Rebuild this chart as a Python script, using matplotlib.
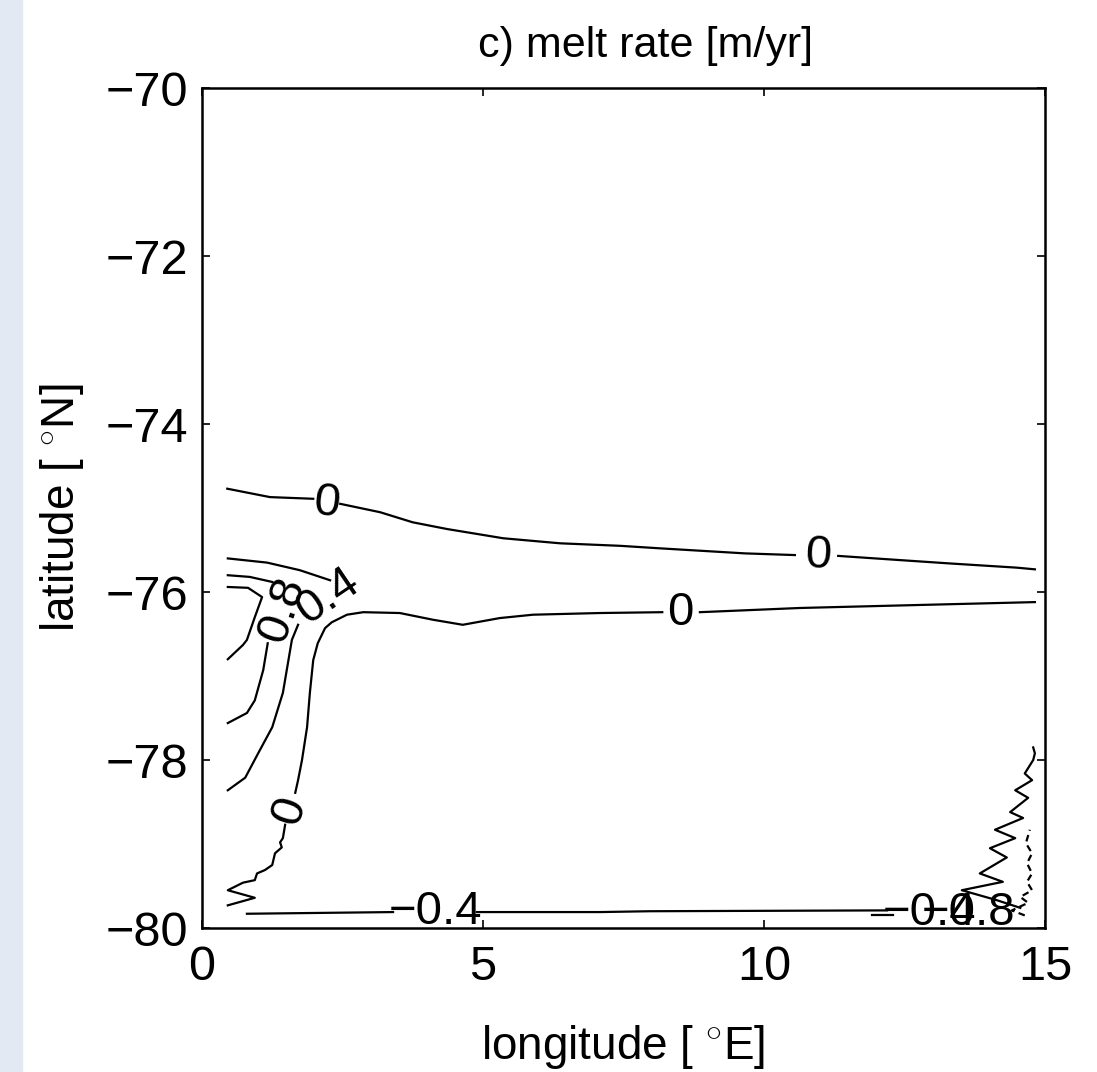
import matplotlib.pyplot as plt
from matplotlib.patches import Rectangle

plt.rcParams['font.family'] = ['Liberation Sans', 'DejaVu Sans']
plt.rcParams['mathtext.fontset'] = 'custom'
plt.rcParams['mathtext.rm'] = 'Liberation Sans'

# contour lines of melt rate (lon in deg E, lat in deg N)
# 0 m/yr, northern line (split where the labels sit)
zero_n1_lon = [0.45, 1.21, 1.98]
zero_n1_lat = [-74.77, -74.87, -74.89]
zero_n2_lon = [2.46, 3.17, 3.75, 4.36, 5.36, 6.37, 7.44, 8.15, 9.66, 10.55]
zero_n2_lat = [-74.95, -75.05, -75.17, -75.25, -75.36, -75.42, -75.45, -75.48, -75.54, -75.56]
zero_n3_lon = [11.32, 12.42, 13.31, 14.50, 14.82]
zero_n3_lat = [-75.57, -75.62, -75.66, -75.71, -75.73]

# 0 m/yr, southern line
zero_s1_lon = [0.46, 0.94, 0.46, 0.73, 0.94, 0.98, 1.12, 1.25, 1.30, 1.42, 1.39, 1.44, 1.48]
zero_s1_lat = [-79.73, -79.64, -79.55, -79.46, -79.43, -79.35, -79.31, -79.25, -79.11, -79.04,
               -78.98, -78.93, -78.77]
zero_s2_lon = [1.66, 1.71, 1.78, 1.87, 1.92, 1.98, 2.06, 2.19, 2.31, 2.58, 2.87, 3.52, 4.11,
               4.64, 5.30, 5.89, 7.08, 8.19]
zero_s2_lat = [-78.39, -78.24, -78.00, -77.61, -77.20, -76.81, -76.61, -76.43, -76.36, -76.27,
               -76.24, -76.25, -76.33, -76.39, -76.31, -76.27, -76.25, -76.24]
zero_s3_lon = [8.86, 10.64, 12.42, 14.82]
zero_s3_lat = [-76.24, -76.19, -76.16, -76.12]

# 0.4 m/yr
p04_1_lon = [0.46, 1.16, 1.74, 2.28]
p04_1_lat = [-75.60, -75.65, -75.74, -75.86]
p04_2_lon = [1.71, 1.60, 1.44, 1.25, 1.00, 0.77, 0.46]
p04_2_lat = [-76.39, -76.57, -77.20, -77.61, -77.92, -78.21, -78.36]

# 0.8 m/yr
p08_1_lon = [0.46, 0.85, 1.25]
p08_1_lat = [-75.80, -75.82, -75.88]
p08_2_lon = [1.17, 1.09, 0.94, 0.80, 0.46]
p08_2_lat = [-76.61, -76.93, -77.29, -77.44, -77.56]

# 1.2 m/yr
p12_lon = [0.46, 0.82, 1.07, 0.94, 0.80, 0.73, 0.46]
p12_lat = [-75.94, -75.95, -76.06, -76.30, -76.57, -76.63, -76.80]

# -0.4 m/yr
m04_1_lon = [0.80, 3.40]
m04_1_lat = [-79.83, -79.81]
m04_2_lon = [4.89, 7.08, 7.97, 12.19]
m04_2_lat = [-79.81, -79.81, -79.80, -79.79]
m04_3_lon = [14.56, 14.15, 13.52, 14.25, 13.84, 14.32, 14.02, 14.47, 14.11, 14.61, 14.38, 14.70,
             14.47, 14.77, 14.64, 14.79, 14.82, 14.79]
m04_3_lat = [-79.76, -79.67, -79.55, -79.45, -79.35, -79.16, -79.05, -78.93, -78.83, -78.69,
             -78.62, -78.45, -78.36, -78.24, -78.16, -78.00, -77.92, -77.85]

# -0.8 m/yr
m08_1_lon = [11.92, 12.30]
m08_1_lat = [-79.85, -79.85]
m08_2_lon = [14.64, 14.41, 14.70, 14.56, 14.77, 14.68, 14.77, 14.68, 14.77, 14.66, 14.73]
m08_2_lat = [-79.85, -79.79, -79.70, -79.63, -79.55, -79.45, -79.35, -79.23, -79.11, -78.99, -78.83]

# contour labels
label_text = ['0', '0', '0', '0', '0.4', '0.8', '\u22120.4', '\u22120.4', '\u22120.8']
label_lon = [2.21, 10.96, 8.52, 1.57, 2.24, 1.44, 4.15, 12.95, 13.63]
label_lat = [-74.94, -75.57, -76.25, -78.60, -76.06, -76.21, -79.81, -79.82, -79.82]
label_rot = [-6, -3, 0, 72, 34, 71, 0, 0, 0]

solid = [(zero_n1_lon, zero_n1_lat), (zero_n2_lon, zero_n2_lat), (zero_n3_lon, zero_n3_lat),
         (zero_s1_lon, zero_s1_lat), (zero_s2_lon, zero_s2_lat), (zero_s3_lon, zero_s3_lat),
         (p04_1_lon, p04_1_lat), (p04_2_lon, p04_2_lat),
         (p08_1_lon, p08_1_lat), (p08_2_lon, p08_2_lat), (p12_lon, p12_lat),
         (m04_1_lon, m04_1_lat), (m04_2_lon, m04_2_lat), (m04_3_lon, m04_3_lat),
         (m08_1_lon, m08_1_lat)]

fig = plt.figure(figsize=(10.97, 10.72), dpi=100)
fig.add_artist(Rectangle((0, 0), 22 / 1097, 1, transform=fig.transFigure,
                         color='#e2e9f3', zorder=-1))
ax = fig.add_axes([0.1841, 0.1343, 0.7685, 0.7836])

for lon, lat in solid:
    ax.plot(lon, lat, color='k', lw=1.6)
ax.plot(m08_2_lon, m08_2_lat, color='k', lw=1.6, dashes=(3, 2))

for s, x, y, r in zip(label_text, label_lon, label_lat, label_rot):
    ax.text(x, y, s, rotation=r, rotation_mode='anchor', ha='center', va='center',
            fontsize=34, clip_on=False)

ax.set_xlim(0, 15)
ax.set_ylim(-80, -70)
ax.set_xticks([0, 5, 10, 15])
ax.set_yticks([-80, -78, -76, -74, -72, -70])
ax.tick_params(direction='in', top=True, right=True, length=6, width=1.2, labelsize=35)
ax.tick_params(axis='y', pad=10)
ax.tick_params(axis='x', pad=12)
for sp in ax.spines.values():
    sp.set_linewidth(1.8)

ax.set_title('c) melt rate [m/yr]', fontsize=31, pad=22, x=0.526)
ax.set_xlabel(r'longitude [ $^{\circ}$E]', fontsize=33, labelpad=24)
ax.set_ylabel(r'latitude [ $^{\circ}$N]', fontsize=33, labelpad=14)

fig.savefig('out.png', dpi=100)
